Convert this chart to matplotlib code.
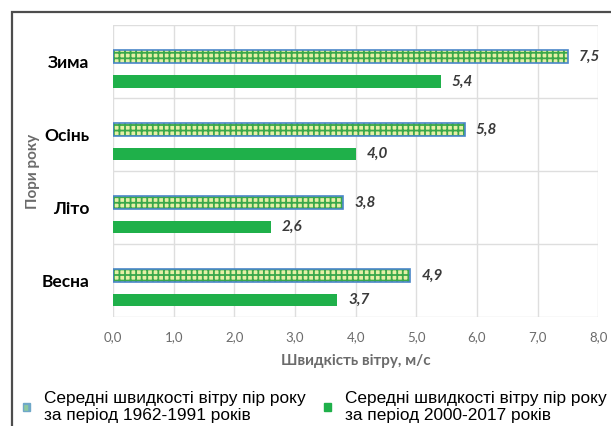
import matplotlib
matplotlib.use('Agg')
import matplotlib.pyplot as plt
from matplotlib.patches import Patch, Rectangle
import numpy as np

seasons = ['Весна', 'Літо', 'Осінь', 'Зима']
old_speed = [4.9, 3.8, 5.8, 7.5]   # 1962-1991
new_speed = [3.7, 2.6, 4.0, 5.4]   # 2000-2017
x_ticks = [0, 1, 2, 3, 4, 5, 6, 7, 8]
x_tick_labels = ['0,0', '1,0', '2,0', '3,0', '4,0', '5,0', '6,0', '7,0', '8,0']
label_old = 'Середні швидкості вітру пір року\nза період 1962-1991 років'
label_new = 'Середні швидкості вітру пір року\nза період 2000-2017 років'

green = '#1fb04a'
yellow = '#e6efa6'
blue = '#4a86c8'
grey_txt = '#6b6b6b'

plt.rcParams['hatch.linewidth'] = 1.3

fig = plt.figure(figsize=(6.11, 4.26), dpi=100)
ax = fig.add_axes([0.185, 0.256, 0.794, 0.685])

y = np.arange(len(seasons))
h = 0.17
# hatched bars (older period)
ax.barh(y + 0.068, old_speed, height=h, color=yellow, edgecolor='#3aa84a',
        hatch='+++', linewidth=0, zorder=3)
ax.barh(y + 0.068, old_speed, height=h, fill=False, edgecolor=blue,
        linewidth=1.2, zorder=4)
# solid bars (recent period)
ax.barh(y - 0.27, new_speed, height=h, color=green, linewidth=0, zorder=3)

for yi, v in zip(y, old_speed):
    ax.annotate(f'{v:.1f}'.replace('.', ','), (v, yi + 0.068), xytext=(8, 0),
                textcoords='offset points', va='center', ha='left',
                fontsize=11, fontweight='bold', fontstyle='italic',
                color='#3a3a3a', family='Lato')
for yi, v in zip(y, new_speed):
    ax.annotate(f'{v:.1f}'.replace('.', ','), (v, yi - 0.27), xytext=(8, 0),
                textcoords='offset points', va='center', ha='left',
                fontsize=11, fontweight='bold', fontstyle='italic',
                color='#3a3a3a', family='Lato')

ax.set_xlim(0, 8)
ax.set_ylim(-0.5, 3.5)
ax.set_xticks(x_ticks)
ax.set_xticklabels(x_tick_labels, family='Lato', fontsize=9.5, color=grey_txt)
ax.set_yticks(y)
ax.set_yticklabels(seasons, family='Lato', fontsize=12.5, fontweight='bold', color='black')
ax.set_yticks(np.arange(-0.5, 3.6, 1), minor=True)
ax.tick_params(axis='both', which='both', length=0)
ax.tick_params(axis='x', pad=10)
ax.tick_params(axis='y', pad=17)
ax.grid(axis='x', which='major', color='#dedede', linewidth=1, zorder=0)
ax.grid(axis='y', which='minor', color='#dedede', linewidth=1, zorder=0)
for s in ax.spines.values():
    s.set_visible(False)

ax.set_xlabel('Швидкість вітру, м/с', family='Lato', fontsize=11,
              fontweight='bold', color=grey_txt, labelpad=8)
ax.set_ylabel('Пори року', family='Lato', fontsize=11,
              fontweight='bold', color=grey_txt)
ax.yaxis.set_label_coords(-0.15, 0.5)

# outer frame, cut off at right and bottom like the scan
fig.patches.append(Rectangle((12 / 611, -0.1), 1.2, 1 - 12 / 426 + 0.1,
                             transform=fig.transFigure, fill=False,
                             edgecolor='#4d4d4d', linewidth=1.6, zorder=10))

handles = [Patch(facecolor='#8ec9a0', edgecolor='#6fa8c8', hatch='++'),
           Patch(facecolor=green, edgecolor=green)]
fig.legend(handles, [label_old, label_new], ncol=2, loc='lower left',
           bbox_to_anchor=(16 / 611, -0.01), borderaxespad=0, frameon=False,
           handlelength=0.4, handleheight=0.4, handletextpad=0.8,
           columnspacing=1.1, prop={'family': 'Liberation Sans', 'size': 12.4})

fig.savefig('out.png', dpi=100)
